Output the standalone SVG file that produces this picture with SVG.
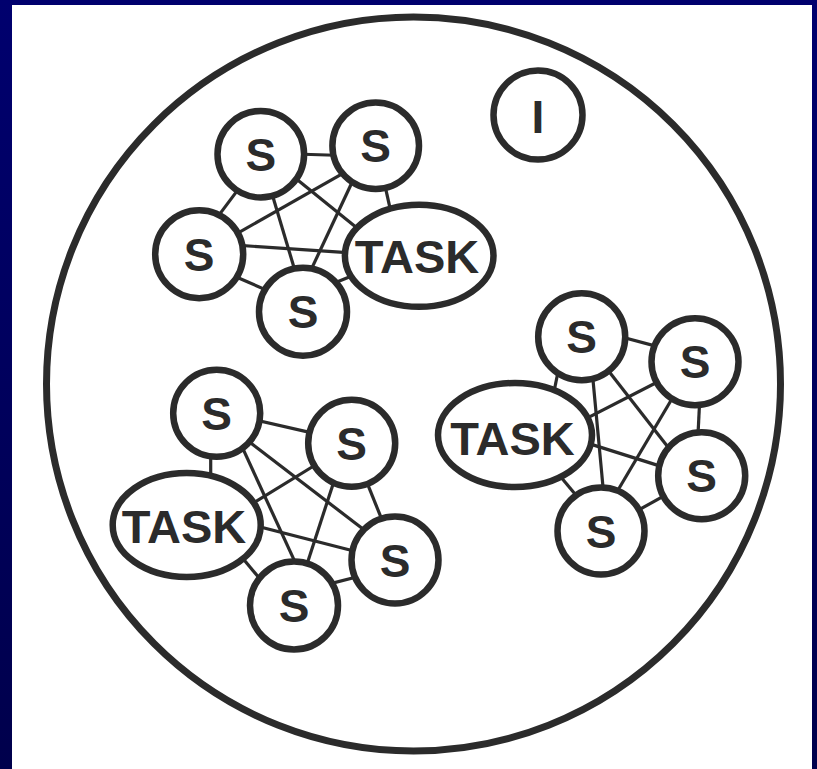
<svg xmlns="http://www.w3.org/2000/svg" width="817" height="769" viewBox="0 0 817 769">
  <defs>
    <linearGradient id="frame" x1="0" y1="0" x2="0" y2="1">
      <stop offset="0" stop-color="#00006e"/>
      <stop offset="1" stop-color="#00004c"/>
    </linearGradient>
    <style>
      .node { fill: #ffffff; stroke: #2b2b2b; stroke-width: 6.5; }
      .edge { stroke: #2b2b2b; stroke-width: 3.2; stroke-linecap: butt; fill: none; }
      .lbl { font-family: "Liberation Sans", Arial, sans-serif; font-weight: bold; font-size: 46px; fill: #2b2b2b; text-anchor: middle; }
      .task { font-size: 47px; }
    </style>
  </defs>

  <!-- frame and page -->
  <rect x="0" y="0" width="817" height="769" fill="url(#frame)"/>
  <rect x="12" y="5" width="800" height="764" fill="#ffffff"/>

  <!-- enclosing circle -->
  <circle cx="413.5" cy="384" r="367" fill="none" stroke="#2b2b2b" stroke-width="7"/>

  <g id="connectors">
    <!-- upper cluster -->
    <line class="edge" x1="295" y1="154" x2="343" y2="155.5"/>
    <line class="edge" x1="240.5" y1="186.4" x2="216.1" y2="218.9"/>
    <line class="edge" x1="269.9" y1="186.8" x2="296.7" y2="276.5"/>
    <line class="edge" x1="292.4" y1="175.8" x2="362.6" y2="232.5"/>
    <line class="edge" x1="348.7" y1="170.1" x2="232.9" y2="235.9"/>
    <line class="edge" x1="355.1" y1="175.8" x2="308.2" y2="275.9"/>
    <line class="edge" x1="384.1" y1="181.6" x2="391.9" y2="216.7"/>
    <line class="edge" x1="236.3" y1="245.2" x2="354.7" y2="253.1"/>
    <line class="edge" x1="232.3" y1="275.2" x2="271" y2="292.1"/>
    <line class="edge" x1="330" y1="284.7" x2="358" y2="273.5"/>

    <!-- right cluster -->
    <line class="edge" x1="615.1" y1="335.2" x2="663.3" y2="348.1"/>
    <line class="edge" x1="559.1" y1="366.5" x2="552.6" y2="398.5"/>
    <line class="edge" x1="592.2" y1="371.3" x2="603.8" y2="495.3"/>
    <line class="edge" x1="604.3" y1="365.5" x2="672.4" y2="452.8"/>
    <line class="edge" x1="662.4" y1="379.5" x2="579.3" y2="422.2"/>
    <line class="edge" x1="675.4" y1="393" x2="613.9" y2="497"/>
    <line class="edge" x1="699.9" y1="396.3" x2="697.7" y2="440.3"/>
    <line class="edge" x1="581.9" y1="441.4" x2="668.2" y2="468.6"/>
    <line class="edge" x1="555.6" y1="470.8" x2="579.4" y2="499.2"/>
    <line class="edge" x1="631.2" y1="514.1" x2="667.2" y2="494.2"/>

    <!-- lower cluster -->
    <line class="edge" x1="251.6" y1="419" x2="318.4" y2="434.4"/>
    <line class="edge" x1="210.7" y1="448" x2="210.7" y2="485.3"/>
    <line class="edge" x1="240" y1="442.4" x2="298.3" y2="569.2"/>
    <line class="edge" x1="243.8" y1="437.7" x2="369.5" y2="534"/>
    <line class="edge" x1="320.2" y1="462" x2="248.1" y2="506.3"/>
    <line class="edge" x1="335.4" y1="476.9" x2="304.6" y2="571.4"/>
    <line class="edge" x1="365.5" y1="478.9" x2="384.5" y2="526.1"/>
    <line class="edge" x1="253.4" y1="525.3" x2="361.6" y2="553"/>
    <line class="edge" x1="240.6" y1="555.8" x2="264.4" y2="584.2"/>
    <line class="edge" x1="326.7" y1="584.6" x2="363.3" y2="575.3"/>
  </g>

  <!-- isolated node -->
  <g id="i-node">
    <circle class="node" cx="538" cy="115" r="44.5"/>
    <text class="lbl" x="538" y="133">I</text>
  </g>

  <!-- upper cluster nodes -->
  <g id="u-s1"><circle class="node" cx="260.8" cy="154.2" r="43.3"/><text class="lbl" x="260.8" y="170.7">S</text></g>
  <g id="u-s2"><circle class="node" cx="375.7" cy="145.7" r="43.3"/><text class="lbl" x="375.7" y="162.2">S</text></g>
  <g id="u-s3"><circle class="node" cx="199.2" cy="254.2" r="44"/><text class="lbl" x="199.2" y="270.7">S</text></g>
  <g id="u-s4"><circle class="node" cx="303" cy="311.7" r="44"/><text class="lbl" x="303" y="328.2">S</text></g>
  <g id="u-task"><ellipse class="node" cx="419.2" cy="255.8" rx="74.3" ry="51"/><text class="lbl task" x="417" y="273">TASK</text></g>

  <!-- right cluster nodes -->
  <g id="r-s1"><circle class="node" cx="581.7" cy="336.7" r="43.5"/><text class="lbl" x="581.7" y="353.2">S</text></g>
  <g id="r-s2"><circle class="node" cx="695" cy="361.7" r="43.5"/><text class="lbl" x="695" y="378.2">S</text></g>
  <g id="r-s3"><circle class="node" cx="701.7" cy="475.7" r="43.5"/><text class="lbl" x="701.7" y="492.2">S</text></g>
  <g id="r-s4"><circle class="node" cx="601" cy="531" r="43.5"/><text class="lbl" x="601" y="547.5">S</text></g>
  <g id="r-task"><ellipse class="node" cx="515" cy="435" rx="77" ry="52"/><text class="lbl task" x="512.5" y="454.5">TASK</text></g>

  <!-- lower cluster nodes -->
  <g id="l-s1"><circle class="node" cx="216.7" cy="413.3" r="43.5"/><text class="lbl" x="216.7" y="429.8">S</text></g>
  <g id="l-s2"><circle class="node" cx="351.7" cy="443.3" r="43.5"/><text class="lbl" x="351.7" y="459.8">S</text></g>
  <g id="l-s3"><circle class="node" cx="395" cy="560" r="43.5"/><text class="lbl" x="395" y="576.5">S</text></g>
  <g id="l-s4"><circle class="node" cx="294" cy="605.5" r="44"/><text class="lbl" x="294" y="622">S</text></g>
  <g id="l-task"><ellipse class="node" cx="186.7" cy="525" rx="74" ry="52"/><text class="lbl task" x="184" y="543">TASK</text></g>
</svg>
